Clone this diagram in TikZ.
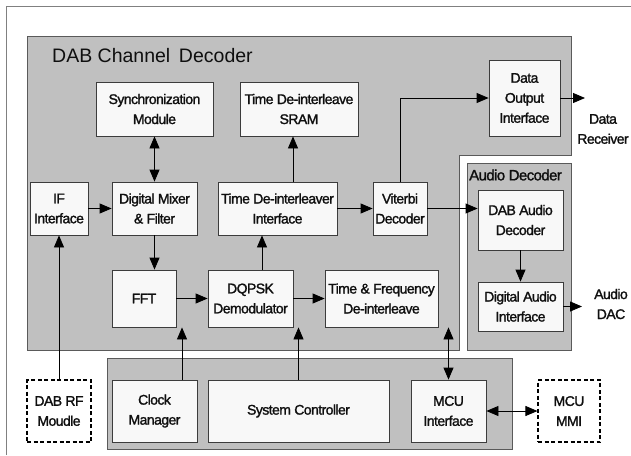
\documentclass[tikz,border=0pt]{standalone}
\usepackage{fontspec}
\setmainfont{Liberation Sans}
\newfontfamily\boxfont[LetterSpace=-4,FakeBold=1.5]{Liberation Sans}
\usetikzlibrary{arrows.meta}
\definecolor{regfill}{RGB}{192,192,192}
\definecolor{regline}{RGB}{90,90,90}
\definecolor{boxfill}{RGB}{248,248,248}
\definecolor{boxline}{RGB}{60,60,60}
\definecolor{txt}{RGB}{15,15,15}
\definecolor{frame}{RGB}{128,128,128}
\tikzset{
  blk/.style={draw=boxline, fill=boxfill, line width=0.8pt, align=center, inner sep=0pt,
    text=txt, font=\boxfont\fontsize{14}{20}\selectfont},
  extblk/.style={blk, draw=black, dashed, dash pattern=on 4pt off 2.5pt, line width=1.1pt, fill=white},
  region/.style={draw=regline, fill=regfill, line width=0.8pt},
  arr/.style={-{Triangle[length=12pt,width=10pt]}, line width=0.8pt, draw=black},
  darr/.style={{Triangle[length=12pt,width=10pt]}-{Triangle[length=12pt,width=10pt]}, line width=0.8pt, draw=black},
  lbl/.style={align=center, inner sep=0pt, text=txt, font=\boxfont\fontsize{14}{20}\selectfont},
}
\begin{document}
\begin{tikzpicture}[x=1pt,y=-1pt]
\useasboundingbox (0,0) rectangle (631,455);
% outer frame
\draw[frame, line width=1pt] (6,455) -- (6,6) -- (631,6);
% regions
\draw[region] (27,36) -- (571,36) -- (571,155) -- (459,155) -- (459,350) -- (27,350) -- cycle;
\draw[region] (467,163) rectangle (571,350);
\draw[region] (107,358) rectangle (512,449);
\node[anchor=west, inner sep=0pt, text=txt, font=\fontsize{19.5}{22}\selectfont] (title) at (52,56) {DAB Channel\, Decoder};
\node[anchor=west, inner sep=0pt, text=txt, font=\boxfont\fontsize{15}{16}\selectfont] (audtitle) at (469,175) {Audio Decoder};
% blocks
\node[blk, minimum width=117pt, minimum height=54pt] (sync) at (154.5,109) {Synchronization\\Module};
\node[blk, minimum width=118pt, minimum height=54pt] (sram) at (299,109) {Time De-interleave\\SRAM};
\node[blk, minimum width=71pt, minimum height=76pt] (dout) at (524.5,98) {Data\\Output\\Interface};
\node[blk, minimum width=58pt, minimum height=53pt] (ifi) at (59,208.5) {IF\\Interface};
\node[blk, minimum width=85pt, minimum height=53pt] (mix) at (154.5,208.5) {Digital Mixer\\\& Filter};
\node[blk, minimum width=119pt, minimum height=53pt] (tdi) at (277.5,208.5) {Time De-interleaver\\Interface};
\node[blk, minimum width=54pt, minimum height=53pt] (vit) at (400,208.5) {Viterbi\\Decoder};
\node[blk, minimum width=85pt, minimum height=60pt] (dabaud) at (520.5,220) {DAB Audio\\Decoder};
\node[blk, minimum width=85pt, minimum height=49pt] (dai) at (520.5,306.5) {Digital Audio\\Interface};
\node[blk, minimum width=64pt, minimum height=57pt] (fft) at (144,298.5) {FFT};
\node[blk, minimum width=85pt, minimum height=57pt] (dqpsk) at (250.5,298.5) {DQPSK\\Demodulator};
\node[blk, minimum width=113pt, minimum height=57pt] (tfd) at (381.5,298.5) {Time \& Frequency\\De-interleave};
\node[extblk, minimum width=64pt, minimum height=62pt] (rf) at (59,411) {DAB RF\\Moudle};
\node[blk, minimum width=85pt, minimum height=62pt] (clk) at (154.5,411) {Clock\\Manager};
\node[blk, minimum width=181pt, minimum height=62pt] (sys) at (298.5,411) {System Controller};
\node[blk, minimum width=75pt, minimum height=62pt] (mcui) at (448.5,411) {MCU\\Interface};
\node[extblk, minimum width=62pt, minimum height=62pt] (mmi) at (569,411) {MCU\\MMI};
% outside labels
\node[lbl] (drec) at (603,129) {Data\\Receiver};
\node[lbl] (adac) at (611,304) {Audio\\DAC};
% helper coordinates
\coordinate (x293) at (293,0);
\coordinate (x262) at (262,0);
\coordinate (x182) at (182,0);
\coordinate (doutend) at (585,98);
\coordinate (daiend) at (582,306.5);
% connectors
\draw[darr] (sync.south) -- (sync.south |- mix.north);
\draw[arr] (tdi.north -| x293) -- (sram.south -| x293);
\draw[arr] (vit.north) |- (dout.west);
\draw[arr] (dout.east) -- (doutend);
\draw[arr] (ifi.east) -- (mix.west);
\draw[arr] (tdi.east) -- (vit.west);
\draw[arr] (vit.east) -- (dabaud.west |- vit.east);
\draw[arr] (dabaud.south) -- (dai.north);
\draw[arr] (dai.east) -- (daiend);
\draw[arr] (rf.north) -- (ifi.south);
\draw[arr] (mix.south) -- (mix.south |- fft.north);
\draw[arr] (fft.east) -- (dqpsk.west);
\draw[arr] (dqpsk.north -| x262) -- (tdi.south -| x262);
\draw[arr] (dqpsk.east) -- (tfd.west);
\draw[arr] (clk.north -| x182) -- (fft.south -| x182);
\draw[arr] (sys.north) -- (sys.north |- dqpsk.south);
\draw[darr] (mcui.north) -- (mcui.north |- tfd.south);
\draw[darr] (mcui.east) -- (mmi.west);
\end{tikzpicture}
\end{document}
